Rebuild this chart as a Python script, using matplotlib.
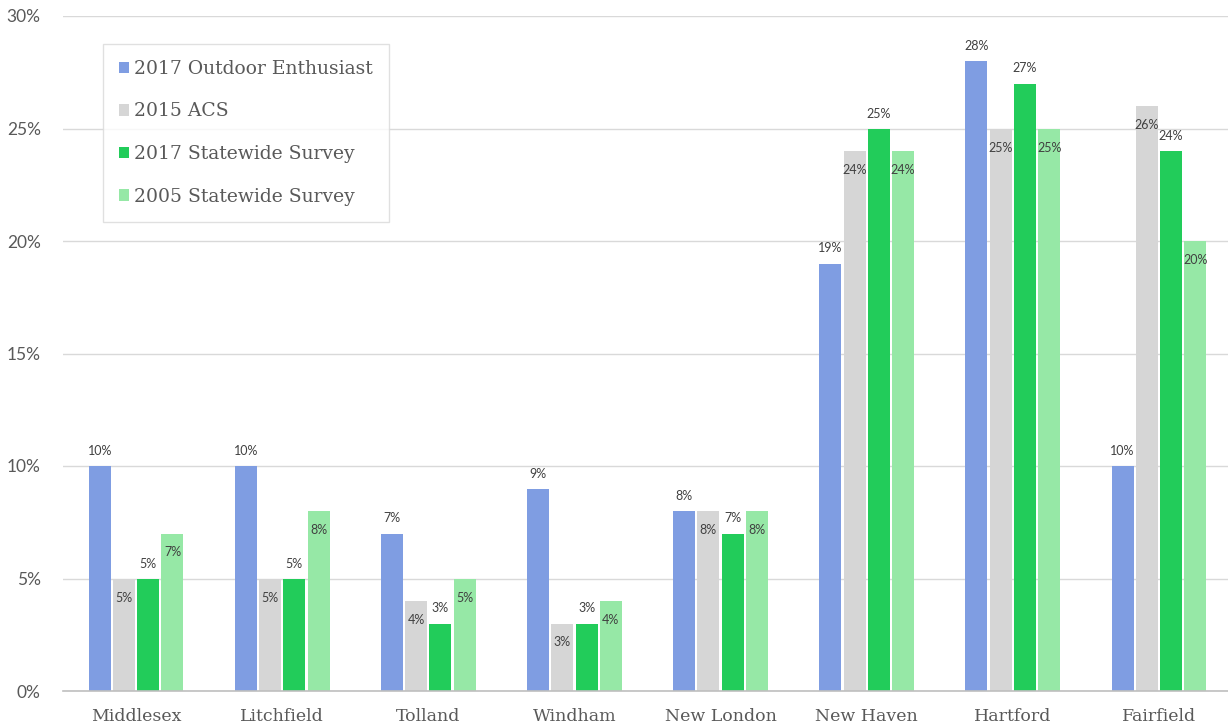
import matplotlib
matplotlib.use("Agg")
import matplotlib.pyplot as plt
import numpy as np
from matplotlib.ticker import FuncFormatter

counties = ["Middlesex", "Litchfield", "Tolland", "Windham",
            "New London", "New Haven", "Hartford", "Fairfield"]
series_names = ["2017 Outdoor Enthusiast", "2015 ACS",
                "2017 Statewide Survey", "2005 Statewide Survey"]
outdoor_2017 = [10, 10, 7, 9, 8, 19, 28, 10]
acs_2015 = [5, 5, 4, 3, 8, 24, 25, 26]
statewide_2017 = [5, 5, 3, 3, 7, 25, 27, 24]
statewide_2005 = [7, 8, 5, 4, 8, 24, 25, 20]
y_ticks = [0, 5, 10, 15, 20, 25, 30]

series_values = [outdoor_2017, acs_2015, statewide_2017, statewide_2005]
colors = ["#7f9de2", "#d6d6d6", "#22cc5a", "#96e8a6"]
# label above the bar top (True) or just inside it (False)
label_outside = [True, False, True, False]

SERIF = ["DejaVu Serif"]
SANS = ["Lato", "DejaVu Sans"]

W, H = 1228, 727
fig = plt.figure(figsize=(W / 100, H / 100), dpi=100)
ax = fig.add_axes([63 / W, 36 / H, 1169 / W, 675 / H])

x = np.arange(len(counties))
pitch = 0.166
width = 0.15
offsets = (np.arange(4) - 1.5) * pitch

for i, (name, vals, col) in enumerate(zip(series_names, series_values, colors)):
    bars = ax.bar(x + offsets[i], vals, width=width, color=col, label=name,
                  zorder=3)
    for rect, v in zip(bars, vals):
        cx = rect.get_x() + rect.get_width() / 2
        if label_outside[i]:
            ax.annotate(f"{v}%", (cx, v), xytext=(0, 9),
                        textcoords="offset pixels", ha="center", va="bottom",
                        fontsize=9, color="#404040", family=SANS, zorder=4)
        else:
            ax.annotate(f"{v}%", (cx, v), xytext=(0, -13),
                        textcoords="offset pixels", ha="center", va="top",
                        fontsize=9, color="#404040", family=SANS, zorder=4)

ax.set_xlim(-0.5, len(counties) - 0.5)
ax.set_ylim(0, 30)
ax.set_yticks(y_ticks)
ax.yaxis.set_major_formatter(FuncFormatter(lambda v, p: f"{v:.0f}%"))
ax.set_xticks(x)
ax.set_xticklabels(counties, family=SERIF, fontsize=12.5, color="#595959")
for lab in ax.get_yticklabels():
    lab.set_family(SANS)
    lab.set_fontsize(12.5)
    lab.set_color("#595959")

ax.tick_params(axis="both", length=0)
ax.tick_params(axis="x", pad=12)
ax.tick_params(axis="y", pad=16)
ax.grid(axis="y", color="#d9d9d9", linewidth=1, zorder=0)
for side in ["top", "right", "left"]:
    ax.spines[side].set_visible(False)
ax.spines["bottom"].set_color("#bfbfbf")
ax.spines["bottom"].set_linewidth(1.2)
ax.spines["bottom"].set_zorder(5)

leg = ax.legend(loc="upper left", bbox_to_anchor=((103 - 63) / 1169, 1 - (44 - 16) / 675),
                prop={"family": SERIF, "size": 13.5}, frameon=True, fancybox=False,
                edgecolor="#d9d9d9", labelspacing=1.31, handlelength=0.55,
                handleheight=0.55, handletextpad=0.25, borderpad=0.85,
                borderaxespad=0, labelcolor="#595959")
leg.get_frame().set_linewidth(1.0)

fig.savefig("out.png", dpi=100, facecolor="white")
